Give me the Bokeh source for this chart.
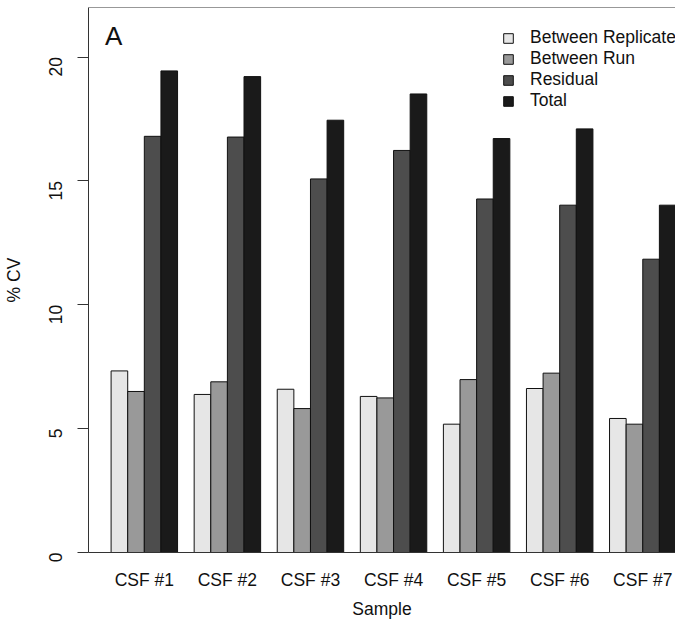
import math
from bokeh.plotting import figure
from bokeh.models import (Range1d, FixedTicker, Span, Label, Legend, LegendItem,
                          ColumnDataSource)
from bokeh.embed import file_html
from bokeh.resources import INLINE

samples = ["CSF #1", "CSF #2", "CSF #3", "CSF #4", "CSF #5", "CSF #6", "CSF #7"]
series = ["Between Replicate", "Between Run", "Residual", "Total"]
between_replicate = [7.33, 6.38, 6.59, 6.30, 5.18, 6.62, 5.41]
between_run = [6.50, 6.89, 5.81, 6.24, 6.98, 7.24, 5.18]
residual = [16.80, 16.77, 15.08, 16.23, 14.27, 14.02, 11.84]
total = [19.44, 19.21, 17.45, 18.51, 16.71, 17.10, 14.02]
y_ticks = [0, 5, 10, 15, 20]
colors = ["#E6E6E6", "#999999", "#4D4D4D", "#1A1A1A"]

FONT = "Liberation Sans"
FS = "17.5px"

p = figure(width=675, height=621, output_backend="svg", toolbar_location=None,
           x_range=Range1d(-0.36, 34.97), y_range=Range1d(0, 22),
           min_border_top=7, min_border_right=0, min_border_left=86,
           min_border_bottom=69)
p.outline_line_color = None
p.xgrid.visible = False
p.ygrid.visible = False
p.background_fill_color = "white"

values = [between_replicate, between_run, residual, total]
renderers = []
for k, vals in enumerate(values):
    xs = [1.5 + 5 * g + k for g in range(len(samples))]
    src = ColumnDataSource(dict(x=xs, top=vals))
    r = p.vbar(x="x", top="top", bottom=0, width=1, source=src,
               fill_color=colors[k], line_color="#111111", line_width=1)
    renderers.append(r)

# x axis
centers = [3 + 5 * g for g in range(len(samples))]
p.xaxis.ticker = FixedTicker(ticks=centers)
p.xaxis.major_label_overrides = {c: s for c, s in zip(centers, samples)}
p.xaxis.major_tick_out = 0
p.xaxis.major_tick_in = 0
p.xaxis.minor_tick_out = 0
p.xaxis.minor_tick_in = 0
p.xaxis.major_label_standoff = 17
p.xaxis.axis_label = "Sample"
p.xaxis.axis_label_standoff = 6
p.xaxis.axis_line_color = "#333333"

# y axis
p.yaxis.ticker = FixedTicker(ticks=y_ticks)
p.yaxis.major_tick_out = 11
p.yaxis.major_tick_in = 0
p.yaxis.minor_tick_out = 0
p.yaxis.minor_tick_in = 0
p.yaxis.major_label_orientation = math.pi / 2
p.yaxis.major_label_standoff = 22
p.yaxis.axis_label = "% CV"
p.yaxis.axis_label_standoff = 16
p.yaxis.axis_line_color = "#333333"
p.yaxis.major_tick_line_color = "#333333"

for ax in (p.xaxis, p.yaxis):
    ax.major_label_text_font = FONT
    ax.major_label_text_font_size = FS
    ax.major_label_text_color = "#111111"
    ax.axis_label_text_font = FONT
    ax.axis_label_text_font_size = FS
    ax.axis_label_text_font_style = "normal"
    ax.axis_label_text_color = "#111111"

# top border line
p.add_layout(Span(location=22, dimension="width", line_color="#333333", line_width=1))

# panel label
p.add_layout(Label(x=0.64, y=20.86, text="A", text_font=FONT, text_font_size="26px",
                   text_color="#111111", text_baseline="alphabetic", text_align="left"))

legend = Legend(items=[LegendItem(label=s, renderers=[r]) for s, r in zip(series, renderers)],
                location=(414, 441))
legend.border_line_color = None
legend.background_fill_alpha = 0
legend.padding = 0
legend.margin = 0
legend.spacing = 0
legend.glyph_width = 12
legend.glyph_height = 12
legend.label_height = 21
legend.label_standoff = 16
legend.label_text_font = FONT
legend.label_text_font_size = FS
legend.label_text_color = "#111111"
p.add_layout(legend)

open("out.html", "w").write(file_html(p, INLINE))
